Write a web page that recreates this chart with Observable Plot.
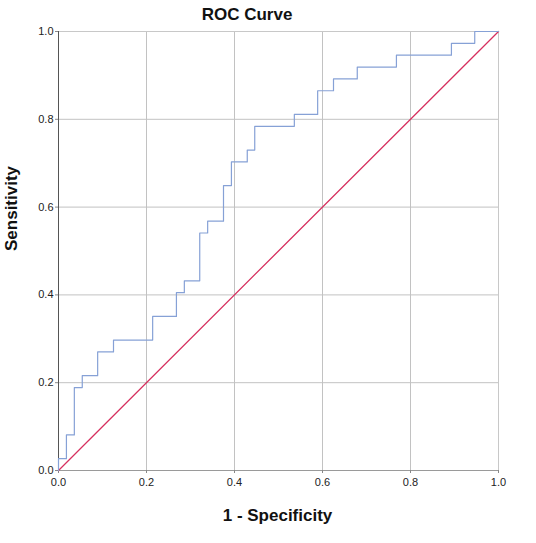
<!DOCTYPE html>
<html>
<head>
<meta charset="utf-8">
<script src="https://cdn.jsdelivr.net/npm/d3@7"></script>
<script src="https://cdn.jsdelivr.net/npm/@observablehq/plot@0.6"></script>
<style>
  body { margin: 0; background: #fff; font-family: "Liberation Sans", Arial, sans-serif; }
  #wrap { width: 536px; position: relative; }
  #title { position: absolute; top: 5px; left: 0; width: 494px; text-align: center; font-size: 17px; font-weight: bold; color: #111; line-height: 20px; }
</style>
</head>
<body>
<div id="wrap">
  <div id="chart"></div>
  <div id="title">ROC Curve</div>
</div>
<script>
const fpr = [0, 0.018, 0.036, 0.054, 0.089, 0.125, 0.214, 0.268, 0.286, 0.321, 0.339, 0.375, 0.393, 0.429, 0.446, 0.536, 0.589, 0.625, 0.679, 0.768, 0.893, 0.946, 1];
const tpr = [0, 0.027, 0.081, 0.189, 0.216, 0.270, 0.297, 0.351, 0.405, 0.432, 0.541, 0.568, 0.649, 0.703, 0.730, 0.784, 0.811, 0.865, 0.892, 0.919, 0.946, 0.973, 1];
const refX = [0, 1];
const refY = [0, 1];
const ticks = [0, 0.2, 0.4, 0.6, 0.8, 1.0];

const roc = fpr.map((x, i) => ({x, y: tpr[i]}));
const diag = refX.map((x, i) => ({x, y: refY[i]}));

const chart = Plot.plot({
  width: 536,
  height: 543,
  marginLeft: 58,
  marginRight: 38,
  marginTop: 31,
  marginBottom: 73,
  style: { fontFamily: "Liberation Sans, Arial, sans-serif", fontSize: "11px", color: "#222", background: "#fff" },
  x: { domain: [0, 1], label: null },
  y: { domain: [0, 1], label: null },
  marks: [
    Plot.gridX(ticks, { stroke: "#c2c2c2", strokeOpacity: 1 }),
    Plot.gridY(ticks, { stroke: "#c2c2c2", strokeOpacity: 1 }),
    Plot.ruleY([1], { stroke: "#c8c8c8" }),
    Plot.ruleX([1], { stroke: "#c8c8c8" }),
    Plot.ruleY([0], { stroke: "#9a9a9a" }),
    Plot.ruleX([0], { stroke: "#555" }),
    Plot.axisX(ticks, { tickFormat: d3.format(".1f"), tickSize: 3, tickPadding: 5, stroke: "#888", fontSize: 11, label: null }),
    Plot.axisY(ticks, { tickFormat: d3.format(".1f"), tickSize: 3, tickPadding: 2, stroke: "#888", fontSize: 11, label: null }),
    Plot.line(diag, { x: "x", y: "y", stroke: "#d6305f", strokeWidth: 1.3 }),
    Plot.line(roc, { x: "x", y: "y", curve: "step-before", stroke: "#86a1d6", strokeWidth: 1.2 }),
    Plot.text(["1 - Specificity"], { frameAnchor: "bottom", dy: 45, dx: -1, lineAnchor: "middle", fontSize: 17, fontWeight: "bold", fill: "#111" }),
    Plot.text(["Sensitivity"], { frameAnchor: "left", dx: -47, rotate: -90, lineAnchor: "middle", fontSize: 17, fontWeight: "bold", fill: "#111" })
  ]
});
document.getElementById("chart").appendChild(chart);
</script>
</body>
</html>
